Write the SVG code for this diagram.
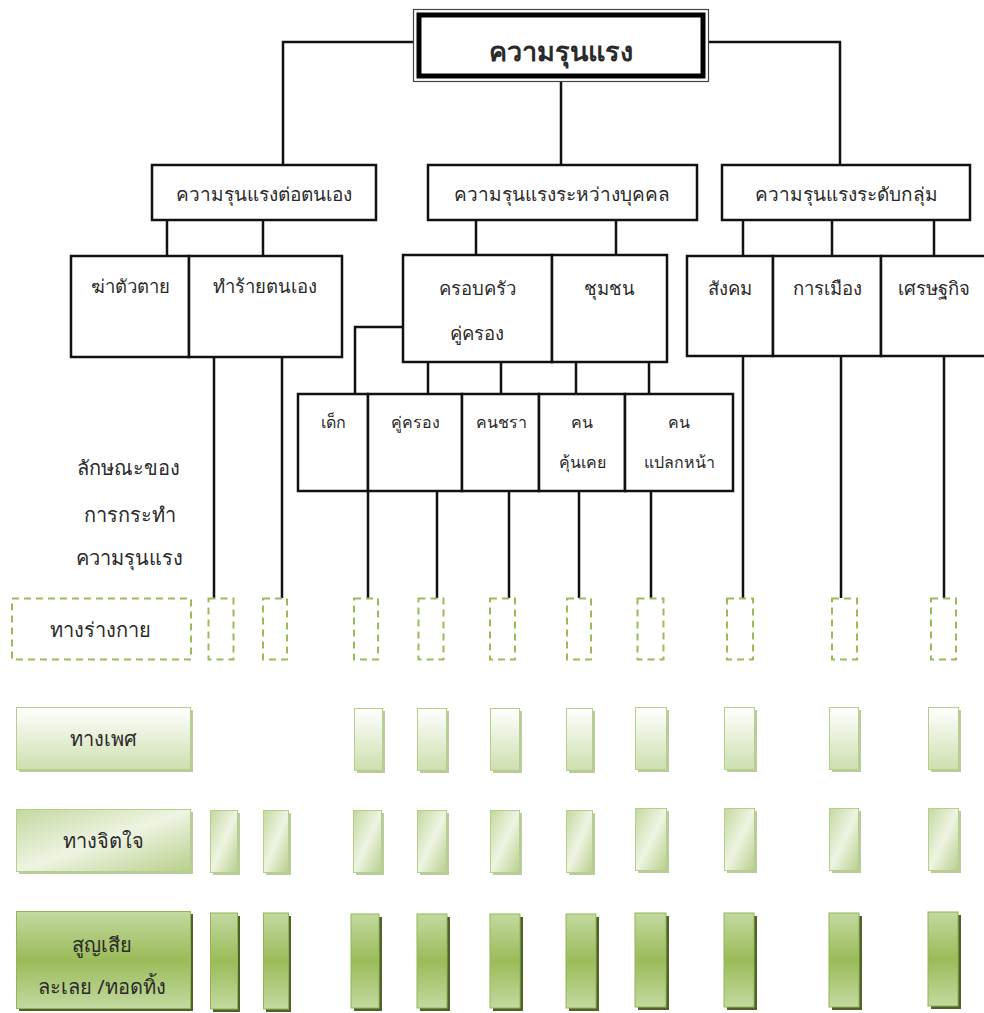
<svg xmlns="http://www.w3.org/2000/svg" width="984" height="1013" viewBox="0 0 984 1013">
<style>
.box{fill:#fff;stroke:#111;stroke-width:2.5}
.ln{fill:none;stroke:#111;stroke-width:2.5}
.dash{fill:#fff;stroke:#9bbb59;stroke-width:2;stroke-dasharray:7 5}
.t{font-family:"Noto Sans","DejaVu Sans",sans-serif;fill:#2a2a2a;text-anchor:middle}
.s19{font-size:19px}
.s18{font-size:18.5px}
.s16{font-size:16px}
.s20{font-size:20px}
.g1{fill:url(#g1);stroke:#b5cf8a;stroke-width:1}
.g2{fill:url(#g2);stroke:#b5cf8a;stroke-width:1}
.g3{fill:url(#g3);stroke:#94b556;stroke-width:1}
.sh1{fill:#9db673;opacity:.7}
.sh3{fill:#4f6228}
</style>
<defs>
<linearGradient id="g1" x1="0" y1="0" x2="0" y2="1"><stop offset="0" stop-color="#ffffff"/><stop offset="1" stop-color="#cddfae"/></linearGradient>
<linearGradient id="g2" x1="0" y1="0" x2="1" y2="1"><stop offset="0" stop-color="#c4d8a0"/><stop offset="0.5" stop-color="#eef4e2"/><stop offset="1" stop-color="#b8cf8c"/></linearGradient>
<linearGradient id="g3" x1="0" y1="0" x2="0" y2="1"><stop offset="0" stop-color="#c3d9a0"/><stop offset="0.5" stop-color="#9bbb59"/><stop offset="1" stop-color="#c3d9a0"/></linearGradient>
</defs>
<rect width="984" height="1013" fill="#fff"/>

<g id="connectors">
<path class="ln" d="M413,42 H283 V164 M709,42 H840 V164 M561,82 V164"/>
<path class="ln" d="M167,220 V256 M263,220 V256 M476,220 V255 M616,220 V255 M743,220 V256 M832,220 V256 M934,220 V256"/>
<path class="ln" d="M403,327 H355 V394 M428,362 V394 M501,362 V394 M576,362 V394 M649,362 V394"/>
<path class="ln" d="M214,357 V598 M282,357 V598 M368,491 V598 M437,491 V598 M509,491 V598 M579,491 V598 M651,491 V598 M743,356 V598 M841,356 V598 M944,356 V598"/>
</g>

<g id="root">
<rect x="413.5" y="9.5" width="295" height="72" fill="#fff" stroke="#444" stroke-width="1.2"/>
<rect x="419" y="15" width="284" height="61" fill="#fff" stroke="#000" stroke-width="5"/>
<text class="t" x="561" y="61" font-size="27" font-weight="bold">ความรุนแรง</text>
</g>

<g id="self">
<rect class="box" x="152" y="165" width="224" height="55"/>
<text class="t s19" x="264" y="201">ความรุนแรงต่อตนเอง</text>
</g>
<g id="inter">
<rect class="box" x="428" y="165" width="269" height="55"/>
<text class="t s19" x="562" y="201">ความรุนแรงระหว่างบุคคล</text>
</g>
<g id="group">
<rect class="box" x="722" y="165" width="248" height="55"/>
<text class="t s19" x="846" y="201">ความรุนแรงระดับกลุ่ม</text>
</g>

<g id="suicide">
<rect class="box" x="71" y="256" width="118" height="101"/>
<text class="t s18" x="130" y="293">ฆ่าตัวตาย</text>
</g>
<g id="selfharm">
<rect class="box" x="189" y="256" width="153" height="101"/>
<text class="t s18" x="265" y="293">ทำร้ายตนเอง</text>
</g>
<g id="family">
<rect class="box" x="403" y="255" width="149" height="107"/>
<text class="t s18" x="477" y="295">ครอบครัว</text>
<text class="t s18" x="477" y="340">คู่ครอง</text>
</g>
<g id="community">
<rect class="box" x="552" y="255" width="115" height="107"/>
<text class="t s18" x="609" y="295">ชุมชน</text>
</g>
<g id="society">
<rect class="box" x="687" y="256" width="86" height="100"/>
<text class="t s18" x="730" y="295">สังคม</text>
</g>
<g id="politics">
<rect class="box" x="773" y="256" width="108" height="100"/>
<text class="t s18" x="827" y="295">การเมือง</text>
</g>
<g id="economy">
<rect class="box" x="881" y="256" width="106" height="100"/>
<text class="t s18" x="934" y="295">เศรษฐกิจ</text>
</g>

<g id="child">
<rect class="box" x="298" y="394" width="70" height="97"/>
<text class="t s16" x="333" y="428">เด็ก</text>
</g>
<g id="partner">
<rect class="box" x="368" y="394" width="94" height="97"/>
<text class="t s16" x="415" y="428">คู่ครอง</text>
</g>
<g id="elder">
<rect class="box" x="462" y="394" width="77" height="97"/>
<text class="t s16" x="501" y="428">คนชรา</text>
</g>
<g id="acquaint">
<rect class="box" x="539" y="394" width="86" height="97"/>
<text class="t s16" x="582" y="428">คน</text>
<text class="t s16" x="582" y="468">คุ้นเคย</text>
</g>
<g id="stranger">
<rect class="box" x="625" y="394" width="108" height="97"/>
<text class="t s16" x="679" y="428">คน</text>
<text class="t s16" x="679" y="468">แปลกหน้า</text>
</g>

<g id="label">
<text class="t s20" x="128" y="475">ลักษณะของ</text>
<text class="t s20" x="130" y="522">การกระทำ</text>
<text class="t s20" x="129" y="565">ความรุนแรง</text>
</g>

<g id="physical">
<rect class="dash" x="12" y="598.5" width="179" height="61"/>
<text class="t s20" x="100" y="637">ทางร่างกาย</text>
<rect class="dash" x="208.5" y="598.5" width="25" height="61"/>
<rect class="dash" x="263" y="598.5" width="24" height="61"/>
<rect class="dash" x="354" y="598.5" width="24" height="61"/>
<rect class="dash" x="418.5" y="598.5" width="25" height="61"/>
<rect class="dash" x="490" y="598.5" width="25" height="61"/>
<rect class="dash" x="567" y="598.5" width="24" height="61"/>
<rect class="dash" x="637.5" y="598.5" width="26" height="61"/>
<rect class="dash" x="727" y="598.5" width="26" height="61"/>
<rect class="dash" x="832" y="598.5" width="25" height="61"/>
<rect class="dash" x="931" y="598.5" width="25" height="61"/>
</g>

<g id="sexual">
<rect class="sh1" x="19" y="710" width="174" height="62"/>
<rect class="g1" x="16.5" y="707.5" width="174" height="62"/>
<text class="t s20" x="103" y="746">ทางเพศ</text>
<rect class="sh1" x="357" y="711" width="28" height="62"/><rect class="g1" x="354.5" y="708.5" width="28" height="62"/>
<rect class="sh1" x="420" y="711" width="29" height="62"/><rect class="g1" x="417.5" y="708.5" width="29" height="62"/>
<rect class="sh1" x="493" y="711" width="29" height="62"/><rect class="g1" x="490.5" y="708.5" width="29" height="62"/>
<rect class="sh1" x="569" y="711" width="26" height="62"/><rect class="g1" x="566.5" y="708.5" width="26" height="62"/>
<rect class="sh1" x="638" y="710" width="31" height="62"/><rect class="g1" x="635.5" y="707.5" width="31" height="62"/>
<rect class="sh1" x="727" y="710" width="30" height="62"/><rect class="g1" x="724.5" y="707.5" width="30" height="62"/>
<rect class="sh1" x="832" y="710" width="29" height="62"/><rect class="g1" x="829.5" y="707.5" width="29" height="62"/>
<rect class="sh1" x="931" y="710" width="30" height="62"/><rect class="g1" x="928.5" y="707.5" width="30" height="62"/>
</g>

<g id="mental">
<rect class="sh1" x="19" y="812" width="174" height="62"/>
<rect class="g2" x="16.5" y="809.5" width="174" height="62"/>
<text class="t s20" x="103" y="848">ทางจิตใจ</text>
<rect class="sh1" x="213" y="813" width="27" height="62"/><rect class="g2" x="210.5" y="810.5" width="27" height="62"/>
<rect class="sh1" x="266" y="813" width="25" height="62"/><rect class="g2" x="263.5" y="810.5" width="25" height="62"/>
<rect class="sh1" x="356" y="813" width="28" height="62"/><rect class="g2" x="353.5" y="810.5" width="28" height="62"/>
<rect class="sh1" x="420" y="813" width="29" height="62"/><rect class="g2" x="417.5" y="810.5" width="29" height="62"/>
<rect class="sh1" x="493" y="813" width="29" height="62"/><rect class="g2" x="490.5" y="810.5" width="29" height="62"/>
<rect class="sh1" x="569" y="813" width="26" height="62"/><rect class="g2" x="566.5" y="810.5" width="26" height="62"/>
<rect class="sh1" x="638" y="811" width="31" height="62"/><rect class="g2" x="635.5" y="808.5" width="31" height="62"/>
<rect class="sh1" x="727" y="811" width="30" height="62"/><rect class="g2" x="724.5" y="808.5" width="30" height="62"/>
<rect class="sh1" x="832" y="811" width="29" height="62"/><rect class="g2" x="829.5" y="808.5" width="29" height="62"/>
<rect class="sh1" x="931" y="811" width="30" height="62"/><rect class="g2" x="928.5" y="808.5" width="30" height="62"/>
</g>

<g id="neglect">
<rect class="sh3" x="19" y="914" width="174" height="97"/>
<rect class="g3" x="16.5" y="911.5" width="174" height="97"/>
<text class="t s20" x="102" y="952">สูญเสีย</text>
<text class="t s20" x="102" y="994">ละเลย /ทอดทิ้ง</text>
<rect class="sh3" x="213" y="916" width="27" height="96"/><rect class="g3" x="210.5" y="913" width="27" height="96"/>
<rect class="sh3" x="266" y="916" width="25" height="96"/><rect class="g3" x="263.5" y="913" width="25" height="96"/>
<rect class="sh3" x="354" y="917" width="28" height="94"/><rect class="g3" x="351" y="914" width="28" height="94"/>
<rect class="sh3" x="420" y="917" width="30" height="94"/><rect class="g3" x="417" y="914" width="30" height="94"/>
<rect class="sh3" x="493" y="917" width="30" height="94"/><rect class="g3" x="490" y="914" width="30" height="94"/>
<rect class="sh3" x="569" y="917" width="30" height="94"/><rect class="g3" x="566" y="914" width="30" height="94"/>
<rect class="sh3" x="638" y="916" width="31" height="94"/><rect class="g3" x="635" y="913" width="31" height="94"/>
<rect class="sh3" x="727" y="916" width="30" height="94"/><rect class="g3" x="724" y="913" width="30" height="94"/>
<rect class="sh3" x="832" y="916" width="30" height="94"/><rect class="g3" x="829" y="913" width="30" height="94"/>
<rect class="sh3" x="931" y="915" width="30" height="94"/><rect class="g3" x="928" y="912" width="30" height="94"/>
</g>
</svg>
